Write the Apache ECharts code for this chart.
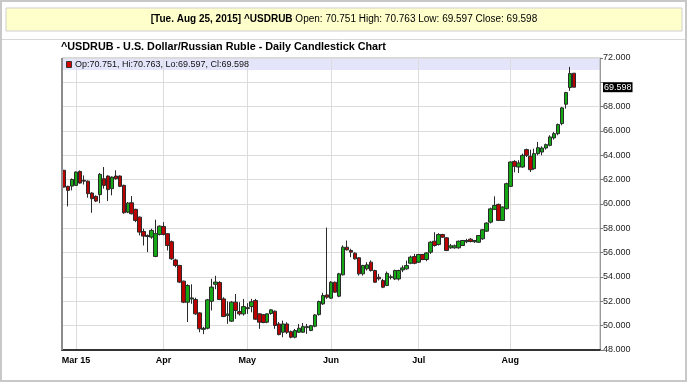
<!DOCTYPE html>
<html><head><meta charset="utf-8">
<script src="https://cdn.jsdelivr.net/npm/echarts@6/dist/echarts.min.js"></script>
<style>html,body{margin:0;padding:0;background:#fff}#c{width:688px;height:384px}</style>
</head><body><div id="c"></div>
<script>
// ---- data ----
const headerBold = '[Tue. Aug 25, 2015] ^USDRUB';
const headerRest = ' Open: 70.751 High: 70.763 Low: 69.597 Close: 69.598';
const titleText = '^USDRUB - U.S. Dollar/Russian Ruble - Daily Candlestick Chart';
const legendText = 'Op:70.751, Hi:70.763, Lo:69.597, Cl:69.598';
const lastClose = 69.598;

const slotCount = 135; // trading-day slots on the axis (129 used)
const categories = Array.from({length: slotCount}, (_, i) => String(i));
const tickIndex = [3, 25, 46, 67, 89, 112];
const tickLabels = ['Mar 15', 'Apr', 'May', 'Jun', 'Jul', 'Aug'];

const openVals = [
62.77,61.45,61.47,61.53,62.68,61.95,61.88,60.90,60.63,60.77,
62.08,62.30,61.26,62.30,62.30,61.53,59.33,60.10,59.56,58.92,
57.74,57.40,57.28,55.69,57.50,58.15,57.56,56.90,55.40,54.95,
53.66,51.93,52.20,52.15,51.05,49.70,49.79,52.01,53.40,53.55,
52.20,50.85,50.37,51.93,51.16,50.97,51.40,51.57,52.07,50.97,
50.90,50.29,51.00,51.19,50.14,49.46,50.14,49.51,49.05,49.46,
49.46,49.84,49.60,49.95,50.91,51.79,52.53,52.26,53.57,52.42,
54.18,56.45,56.18,55.96,55.58,54.26,54.67,55.22,54.53,53.98,
53.71,53.30,53.95,53.84,53.84,54.58,54.67,55.13,55.68,55.22,
55.85,55.44,56.04,56.94,56.67,57.49,57.22,56.40,56.40,56.40,
56.59,56.90,57.11,56.90,56.86,57.14,57.77,58.51,59.56,59.97,
58.65,59.61,61.45,63.50,63.04,63.04,64.47,63.92,62.90,64.14,
64.27,64.60,64.82,65.43,65.78,66.61,68.20,69.57,70.751];
const highVals = [
62.80,61.50,62.10,62.66,62.76,62.35,61.94,60.98,60.70,62.54,
63.04,62.35,62.27,62.77,62.35,61.59,60.16,60.65,59.61,58.98,
57.97,57.50,57.97,58.71,58.24,58.51,57.60,57.00,55.50,55.00,
53.70,53.40,53.40,52.30,51.10,49.90,52.20,53.85,54.10,53.66,
52.34,52.00,52.01,52.60,51.93,52.20,51.85,52.20,52.20,51.02,
50.95,51.00,51.35,51.25,50.30,50.42,50.28,49.60,49.73,50.14,
50.22,50.14,50.06,50.95,52.06,52.70,58.06,53.66,53.62,54.34,
56.60,57.00,56.32,56.04,55.63,55.00,55.22,55.36,54.60,54.26,
53.85,54.45,54.20,54.60,54.60,54.95,55.35,55.75,55.90,55.90,
55.90,56.04,56.94,57.68,57.60,57.55,57.27,56.72,56.67,57.00,
57.05,57.14,57.20,57.05,57.45,57.95,58.50,59.70,60.63,60.03,
59.80,61.75,63.50,63.60,63.60,64.14,64.55,64.47,64.55,65.10,
64.74,64.96,65.65,65.92,66.61,67.98,69.22,71.27,70.763];
const lowVals = [
61.35,59.80,61.12,61.50,61.67,61.60,60.52,59.28,60.16,60.07,
61.26,60.24,60.71,62.00,61.39,59.20,59.25,59.14,58.51,57.42,
56.59,56.04,57.14,55.63,57.42,57.42,56.18,55.40,54.80,53.50,
51.85,50.30,51.80,50.90,49.46,49.30,49.70,51.25,53.00,52.10,
50.70,50.15,50.30,50.56,50.83,50.83,50.97,51.10,50.48,49.74,
50.20,50.20,50.90,49.74,49.20,49.05,49.32,48.96,48.96,49.40,
49.40,49.32,49.55,49.87,50.83,51.70,52.20,52.20,52.70,52.34,
54.12,56.18,55.63,55.44,54.12,54.12,54.53,54.45,53.52,53.71,
53.08,53.25,53.80,53.75,53.71,54.40,54.60,55.05,55.05,55.15,
55.38,55.30,55.90,56.50,56.59,57.22,56.13,56.32,56.32,56.32,
56.55,56.78,56.84,56.80,56.80,57.05,57.70,58.40,59.50,58.62,
58.60,59.55,61.40,62.60,62.55,62.98,63.86,62.63,62.82,64.00,
64.00,64.47,64.74,65.29,65.65,66.47,67.84,69.30,69.597];
const closeVals = [
61.39,61.12,62.02,62.63,61.72,61.88,60.85,60.44,60.24,62.44,
61.53,61.18,62.21,62.08,61.45,59.28,60.07,59.20,58.65,57.69,
57.36,57.33,57.83,57.56,58.18,57.50,56.59,55.50,54.95,53.58,
51.93,53.30,52.28,50.97,49.74,49.78,52.12,53.17,53.58,52.15,
50.75,50.95,51.93,51.25,50.97,51.57,51.48,51.96,50.53,50.29,
50.26,50.97,51.30,50.01,49.27,50.14,49.46,49.05,49.60,49.79,
49.92,49.92,50.00,50.88,51.98,52.48,52.34,53.57,52.75,54.26,
56.45,56.23,56.04,55.49,54.26,54.95,55.00,54.53,53.57,53.85,
53.16,54.30,54.02,54.53,54.53,54.75,54.94,55.63,55.13,55.85,
55.44,55.98,56.86,56.59,57.49,57.27,56.18,56.56,56.56,56.94,
57.00,57.00,56.92,57.00,57.41,57.88,58.43,59.60,59.88,58.65,
59.75,61.67,63.45,63.10,63.37,64.00,64.00,62.82,64.14,64.63,
64.60,64.88,65.51,65.78,66.53,67.90,69.16,70.72,69.598];

const yMin = 48, yMax = 72, yStep = 2;

// ---- chart ----
const FONT = "'Liberation Sans', Arial, sans-serif";
const candleData = openVals.map((o, i) => [o, closeVals[i], lowVals[i], highVals[i]]);
const tickSet = new Set(tickIndex);

const chart = echarts.init(document.getElementById('c'), null, {renderer: 'canvas'});
chart.setOption({
  animation: false,
  backgroundColor: '#fff',
  title: {
    text: titleText, left: 61, top: 42, padding: 0,
    textStyle: {fontSize: 10.8, fontWeight: 'bold', color: '#000', fontFamily: FONT}
  },
  grid: {left: 62, right: 88, top: 58, bottom: 34, show: true, borderColor: '#b0b0b0', borderWidth: 1},
  xAxis: {
    type: 'category', data: categories, boundaryGap: true,
    axisLine: {show: true, lineStyle: {color: '#333', width: 2}},
    axisTick: {show: false},
    axisLabel: {
      interval: (idx) => tickSet.has(idx),
      formatter: (v, idx) => { const k = tickIndex.indexOf(Number(v)); return k >= 0 ? tickLabels[k] : ''; },
      fontSize: 9, fontWeight: 'bold', color: '#000', fontFamily: FONT, margin: 6
    },
    splitLine: {show: true, alignWithLabel: true, interval: (idx) => tickSet.has(idx), lineStyle: {color: '#dcdcdc', width: 1}}
  },
  yAxis: {
    type: 'value', position: 'right', min: yMin, max: yMax, interval: yStep, scale: true,
    axisLine: {show: true, lineStyle: {color: '#999', width: 1}},
    axisTick: {show: true, length: 3, lineStyle: {color: '#777'}},
    axisLabel: {
      formatter: (v) => Math.abs(v - 70) < 1e-9 ? '' : v.toFixed(3),
      fontSize: 9, color: '#222', fontFamily: FONT, margin: 3
    },
    splitLine: {show: true, lineStyle: {color: '#dcdcdc', width: 1}}
  },
  series: [{
    type: 'candlestick',
    data: candleData,
    barWidth: 4,
    clip: false,
    itemStyle: {color: '#14a814', color0: '#bb0000', borderColor: '#2a2a2a', borderColor0: '#2a2a2a', borderWidth: 1},
    markLine: {
      silent: true, symbol: ['none', 'none'], animation: false,
      lineStyle: {color: 'rgba(0,0,0,0)', width: 1, type: 'solid'},
      label: {show: true, position: 'end', formatter: lastClose.toFixed(3), backgroundColor: '#000', color: '#fff',
        fontSize: 9, fontFamily: FONT, padding: [1, 1, 0, 1], distance: 3},
      data: [{yAxis: lastClose}]
    }
  }],
  graphic: [
    {type: 'rect', z: -5, shape: {x: 1, y: 1, width: 685, height: 380}, style: {fill: 'none', stroke: '#c8c8c8', lineWidth: 2}},
    {type: 'rect', z: -4, shape: {x: 6, y: 8, width: 676, height: 23}, style: {fill: '#ffffcc', stroke: '#cfcfcf', lineWidth: 1}},
    {type: 'line', z: -4, shape: {x1: 2, y1: 39.5, x2: 685, y2: 39.5}, style: {stroke: '#d8d8d8', lineWidth: 1}},
    {type: 'text', z: 10, x: 344, y: 19.5, style: {
      text: '{b|' + headerBold + '}{n|' + headerRest + '}', align: 'center', verticalAlign: 'middle',
      rich: {b: {fontSize: 10, fontWeight: 'bold', fontFamily: FONT, fill: '#000'}, n: {fontSize: 10, fontFamily: FONT, fill: '#000'}}
    }},
    {type: 'rect', z: -1, shape: {x: 63, y: 58.5, width: 537, height: 11.5}, style: {fill: '#e4e4fa'}},
    {type: 'line', z: 10, shape: {x1: 62, y1: 58, x2: 62, y2: 350}, style: {stroke: '#8c8c8c', lineWidth: 2}},
    {type: 'rect', z: 10, shape: {x: 66.5, y: 61.5, width: 5, height: 6}, style: {fill: '#d40000', stroke: '#333', lineWidth: 1}},
    {type: 'text', z: 10, x: 75, y: 64.5, style: {text: legendText, fontSize: 9, fontFamily: FONT, fill: '#111', verticalAlign: 'middle'}}
  ]
});
</script>
</body></html>
